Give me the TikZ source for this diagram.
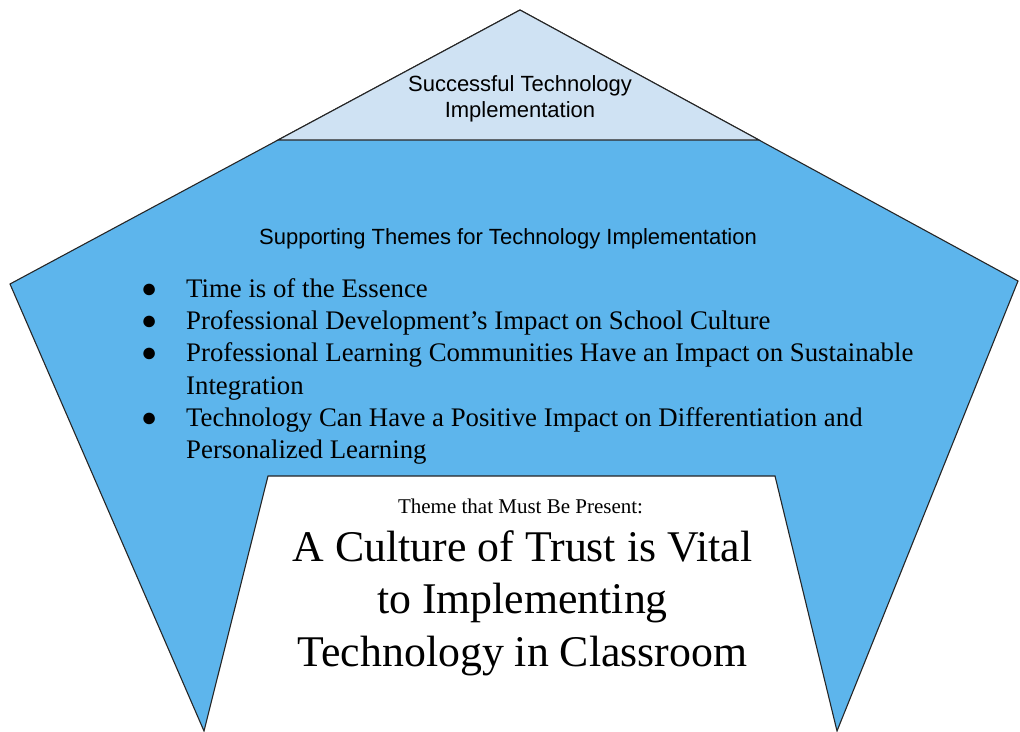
\documentclass[tikz,border=0pt]{standalone}
\usepackage{fontspec}
\setmainfont{Liberation Serif}
\newfontfamily\arialfont{Liberation Sans}
\definecolor{pentblue}{HTML}{5DB5EC}
\definecolor{tipblue}{HTML}{CFE2F3}
\tikzset{edge/.style={draw=black!85, line width=1.1pt, line join=miter}}

\begin{document}
\begin{tikzpicture}[x=1pt,y=-1pt]
\useasboundingbox (0,0) rectangle (1020,731);
\coordinate (apex) at (520,10);
\coordinate (rv) at (1018,281);
\coordinate (br) at (837,731);
\coordinate (bl) at (204,731);
\coordinate (lv) at (10,284);
\coordinate (tl) at (278,140);
\coordinate (tr) at (759,140);
\coordinate (wl) at (268,476);
\coordinate (wr) at (775,476);
\draw [edge, fill=pentblue] (apex) -- (rv) -- (br) -- (wr) -- (wl) -- (bl) -- (lv) -- cycle;
\draw [edge, fill=tipblue] (apex) -- (tr) -- (tl) -- cycle;

\node (goal) [anchor=north, align=center, inner sep=0, font=\arialfont\fontsize{22}{26}\selectfont] at (520,75) {Successful Technology\\Implementation};
\node (themes) [anchor=base, inner sep=0, font=\arialfont\fontsize{22}{26}\selectfont] at (508,244) {Supporting Themes for Technology Implementation};
\node (list) [anchor=base west, inner sep=0, font=\fontsize{26.8}{32.2}\selectfont] at (141,297.5) {%
\begin{tabular}[t]{@{}l@{}l@{}}
\makebox[45pt][l]{●} & Time is of the Essence\\
\makebox[45pt][l]{●} & Professional Development’s Impact on School Culture\\
\makebox[45pt][l]{●} & Professional Learning Communities Have an Impact on Sustainable\\
 & Integration\\
\makebox[45pt][l]{●} & Technology Can Have a Positive Impact on Differentiation and\\
 & Personalized Learning
\end{tabular}};

\node (must) [anchor=base, inner sep=0, font=\fontsize{21}{25}\selectfont] at (520.5,513) {Theme that Must Be Present:};
\node (trust) [anchor=north, align=center, inner sep=0, font=\fontsize{43.8}{52.5}\selectfont] at (522.5,530) {A Culture of Trust is Vital\\to Implementing\\Technology in Classroom};
\end{tikzpicture}
\end{document}
